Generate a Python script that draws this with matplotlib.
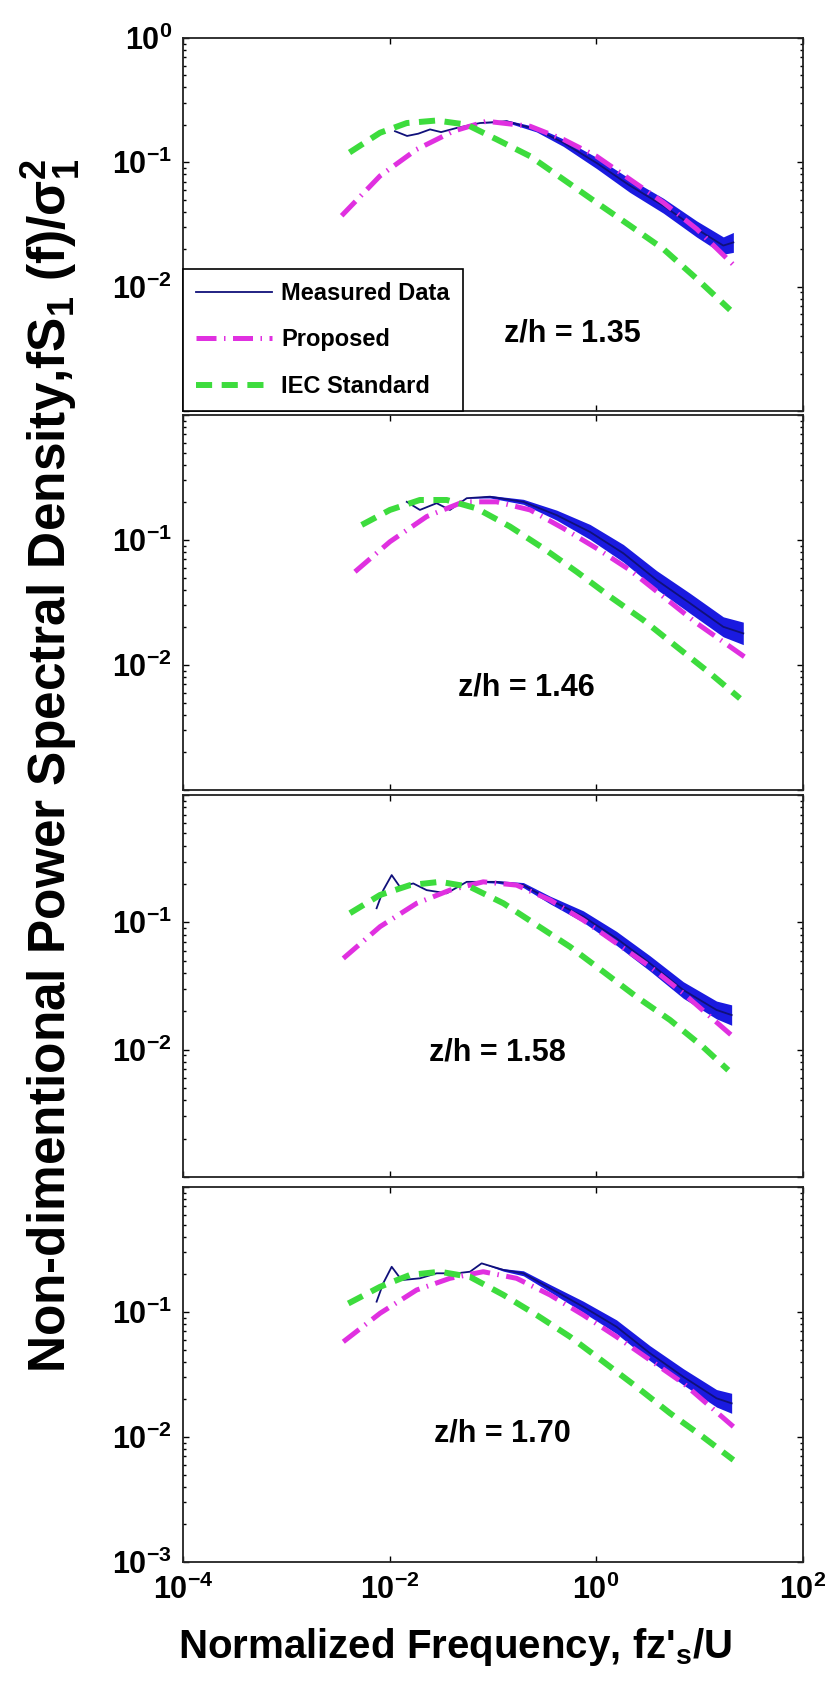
import numpy as np
import matplotlib
matplotlib.use("Agg")
import matplotlib.pyplot as plt
from matplotlib.ticker import FixedLocator, LogLocator, NullLocator

plt.rcParams["font.family"] = ["Liberation Sans", "DejaVu Sans"]
plt.rcParams["font.weight"] = "bold"
plt.rcParams["mathtext.fontset"] = "custom"
plt.rcParams["mathtext.rm"] = "Liberation Sans:bold"
plt.rcParams["mathtext.it"] = "Liberation Sans:bold"
plt.rcParams["mathtext.bf"] = "Liberation Sans:bold"
plt.rcParams["mathtext.default"] = "rm"

# ---- data (one entry per panel, top to bottom) ----
height_labels = ["z/h = 1.35", "z/h = 1.46", "z/h = 1.58", "z/h = 1.70"]

measured_x = [
    [0.0113, 0.0148, 0.019, 0.0247, 0.0316, 0.0447, 0.075, 0.136, 0.265, 0.482, 1.01, 2.13, 4.49, 9.44, 17.1, 21.4],
    [0.0147, 0.0197, 0.0286, 0.0385, 0.056, 0.094, 0.198, 0.416, 0.875, 1.84, 3.86, 8.13, 17.1, 26.7],
    [0.0075, 0.0087, 0.0105, 0.0126, 0.017, 0.0229, 0.0358, 0.056, 0.109, 0.198, 0.358, 0.753, 1.58, 3.33, 7.01, 14.7, 20.6],
    [0.0075, 0.0087, 0.0105, 0.0131, 0.0197, 0.0286, 0.0447, 0.0602, 0.078, 0.127, 0.198, 0.358, 0.753, 1.58, 3.33, 7.01, 14.7, 20.6],
]
measured_y = [
    [0.178, 0.163, 0.170, 0.184, 0.175, 0.189, 0.207, 0.214, 0.184, 0.144, 0.099, 0.065, 0.0448, 0.0291, 0.0214, 0.0227],
    [0.202, 0.174, 0.197, 0.174, 0.216, 0.222, 0.202, 0.158, 0.116, 0.0783, 0.0479, 0.0312, 0.0202, 0.0179],
    [0.129, 0.179, 0.235, 0.19, 0.202, 0.179, 0.169, 0.208, 0.208, 0.196, 0.15, 0.111, 0.0748, 0.0476, 0.0294, 0.0205, 0.0187],
    [0.121, 0.17, 0.23, 0.18, 0.186, 0.204, 0.204, 0.21, 0.245, 0.217, 0.204, 0.155, 0.110, 0.0762, 0.0468, 0.0303, 0.0204, 0.0186],
]
# half width (in decades) of the noisy band of the measured spectrum
measured_spread = [
    [0, 0, 0, 0, 0, 0, 0, 0.01, 0.02, 0.03, 0.045, 0.055, 0.06, 0.065, 0.07, 0.08],
    [0, 0, 0, 0, 0, 0.01, 0.02, 0.04, 0.06, 0.07, 0.075, 0.08, 0.08, 0.09],
    [0, 0, 0, 0, 0, 0, 0, 0, 0.01, 0.02, 0.03, 0.045, 0.055, 0.06, 0.065, 0.07, 0.08],
    [0, 0, 0, 0, 0, 0, 0, 0, 0, 0.01, 0.02, 0.03, 0.045, 0.055, 0.06, 0.065, 0.07, 0.08],
]

proposed_x = [
    [0.00344, 0.0081, 0.0183, 0.0415, 0.0869, 0.23, 0.482, 1.01, 2.13, 4.49, 9.44, 21.4],
    [0.00463, 0.0101, 0.0229, 0.0519, 0.109, 0.23, 0.482, 1.01, 2.13, 4.49, 9.44, 28.8],
    [0.00357, 0.0081, 0.0183, 0.0385, 0.0809, 0.17, 0.358, 0.753, 1.58, 3.33, 7.01, 21.4],
    [0.00357, 0.0081, 0.0183, 0.0385, 0.0809, 0.17, 0.358, 0.753, 1.58, 3.33, 7.01, 21.4],
]
proposed_y = [
    [0.0372, 0.0778, 0.127, 0.178, 0.214, 0.195, 0.153, 0.112, 0.073, 0.0475, 0.0291, 0.0150],
    [0.0557, 0.0969, 0.154, 0.202, 0.202, 0.174, 0.124, 0.0859, 0.0575, 0.0352, 0.0216, 0.0113],
    [0.0521, 0.0925, 0.141, 0.179, 0.208, 0.196, 0.15, 0.104, 0.0684, 0.0449, 0.0277, 0.0126],
    [0.0578, 0.0977, 0.15, 0.186, 0.21, 0.186, 0.137, 0.0946, 0.0634, 0.0413, 0.0269, 0.0121],
]

iec_x = [
    [0.0041, 0.0081, 0.0147, 0.0286, 0.056, 0.109, 0.23, 0.482, 1.01, 2.13, 4.49, 9.44, 19.9],
    [0.00538, 0.0101, 0.0197, 0.0358, 0.0697, 0.147, 0.309, 0.65, 1.37, 2.87, 6.04, 12.7, 24.8],
    [0.00414, 0.0081, 0.0158, 0.0308, 0.0602, 0.127, 0.266, 0.56, 1.18, 2.47, 5.21, 10.9, 19.1],
    [0.00399, 0.0081, 0.0158, 0.0308, 0.0602, 0.127, 0.266, 0.56, 1.18, 2.47, 5.21, 10.9, 21.4],
]
iec_y = [
    [0.120, 0.173, 0.207, 0.217, 0.201, 0.153, 0.112, 0.073, 0.0475, 0.031, 0.0201, 0.0116, 0.0065],
    [0.132, 0.174, 0.209, 0.209, 0.179, 0.128, 0.0859, 0.0557, 0.0352, 0.0229, 0.014, 0.0086, 0.0054],
    [0.118, 0.164, 0.196, 0.208, 0.19, 0.141, 0.0953, 0.0643, 0.0409, 0.026, 0.0171, 0.0105, 0.0069],
    [0.117, 0.159, 0.198, 0.21, 0.191, 0.137, 0.0946, 0.0634, 0.04, 0.0252, 0.0155, 0.01, 0.00655],
]

ytick_values = [1e-3, 1e-2, 1e-1, 1e0]
ytick_labels = [
    ["", r"$10^{-2}$", r"$10^{-1}$", r"$10^{0}$"],
    ["", r"$10^{-2}$", r"$10^{-1}$", ""],
    ["", r"$10^{-2}$", r"$10^{-1}$", ""],
    [r"$10^{-3}$", r"$10^{-2}$", r"$10^{-1}$", ""],
]
xtick_values = [1e-4, 1e-2, 1e0, 1e2]
xtick_labels = [r"$10^{-4}$", r"$10^{-2}$", r"$10^{0}$", r"$10^{2}$"]

# ---- layout (pixels of the 831x1684 image) ----
FIG_W, FIG_H = 831, 1684
left_px, right_px = 183, 802.5
panel_px = [(38, 411), (415, 790), (795, 1177), (1187, 1562)]
label_pos = [(0.628, 0.209), (0.554, 0.272), (0.507, 0.325), (0.515, 0.344)]

navy = "#10107a"
band_blue = "#1a1ae0"
magenta = "#e030e0"
green = "#3ddc3d"


def style_axis(ax, index):
    ax.set_xscale("log")
    ax.set_yscale("log")
    ax.set_xlim(1e-4, 1e2)
    ax.set_ylim(1e-3, 1e0)

    ax.xaxis.set_major_locator(FixedLocator(xtick_values))
    ax.xaxis.set_minor_locator(NullLocator())
    ax.yaxis.set_major_locator(FixedLocator(ytick_values))
    ax.yaxis.set_minor_locator(LogLocator(base=10, subs=np.arange(2, 10)))

    ax.set_yticklabels(ytick_labels[index], fontsize=22)
    if index == 3:
        ax.set_xticklabels(xtick_labels, fontsize=22)
    else:
        ax.set_xticklabels([])

    ax.tick_params(which="both", direction="in", top=True, right=True, width=1.0)
    ax.tick_params(which="major", length=4)
    ax.tick_params(axis="y", which="major", pad=8)
    ax.tick_params(axis="x", which="major", pad=9)
    ax.tick_params(which="minor", length=2.5)
    for spine in ax.spines.values():
        spine.set_linewidth(1.3)
        spine.set_color("#222222")


def draw_panel(ax, index):
    mx = np.array(measured_x[index])
    my = np.array(measured_y[index])
    spread = np.array(measured_spread[index])

    ax.fill_between(mx, my / 10 ** spread, my * 10 ** spread, color=band_blue, lw=0, zorder=2)
    ax.plot(mx, my, color=navy, lw=1.3, label="Measured Data", zorder=3)
    ax.plot(proposed_x[index], proposed_y[index], color=magenta, lw=3.6,
            linestyle=(0, (4.0, 1.5, 0.3, 1.5)), label="Proposed", zorder=4)
    ax.plot(iec_x[index], iec_y[index], color=green, lw=4.3,
            linestyle=(0, (2.7, 1.6)), label="IEC Standard", zorder=5)

    ax.text(label_pos[index][0], label_pos[index][1], height_labels[index],
            transform=ax.transAxes, ha="center", va="center", fontsize=22, fontweight="bold")


def main():
    fig = plt.figure(figsize=(FIG_W / 100, FIG_H / 100), dpi=100)

    axes = []
    for index, (top, bottom) in enumerate(panel_px):
        rect = [left_px / FIG_W, 1 - bottom / FIG_H, (right_px - left_px) / FIG_W, (bottom - top) / FIG_H]
        ax = fig.add_axes(rect)
        draw_panel(ax, index)
        style_axis(ax, index)
        axes.append(ax)

    leg = axes[0].legend(loc="lower left", bbox_to_anchor=(0, 0), borderaxespad=0,
                         fontsize=17, handlelength=3.2, handletextpad=0.4,
                         labelspacing=1.0, fancybox=False, framealpha=1,
                         edgecolor="black", borderpad=0.55)
    leg.get_frame().set_linewidth(1.2)
    leg.set_zorder(10)

    fig.text(455 / FIG_W, 1 - 1658 / FIG_H, r"Normalized Frequency, fz'$_{s}$/U",
             ha="center", va="baseline", fontsize=29, fontweight="bold")
    fig.text(50 / FIG_W, 1 - 766 / FIG_H,
             r"Non-dimentional Power Spectral Density,fS$_{1}$ (f)/$\sigma_{1}^{2}$",
             rotation=90, ha="center", va="center", fontsize=37, fontweight="bold")

    fig.savefig("out.png", dpi=100)


if __name__ == "__main__":
    main()
